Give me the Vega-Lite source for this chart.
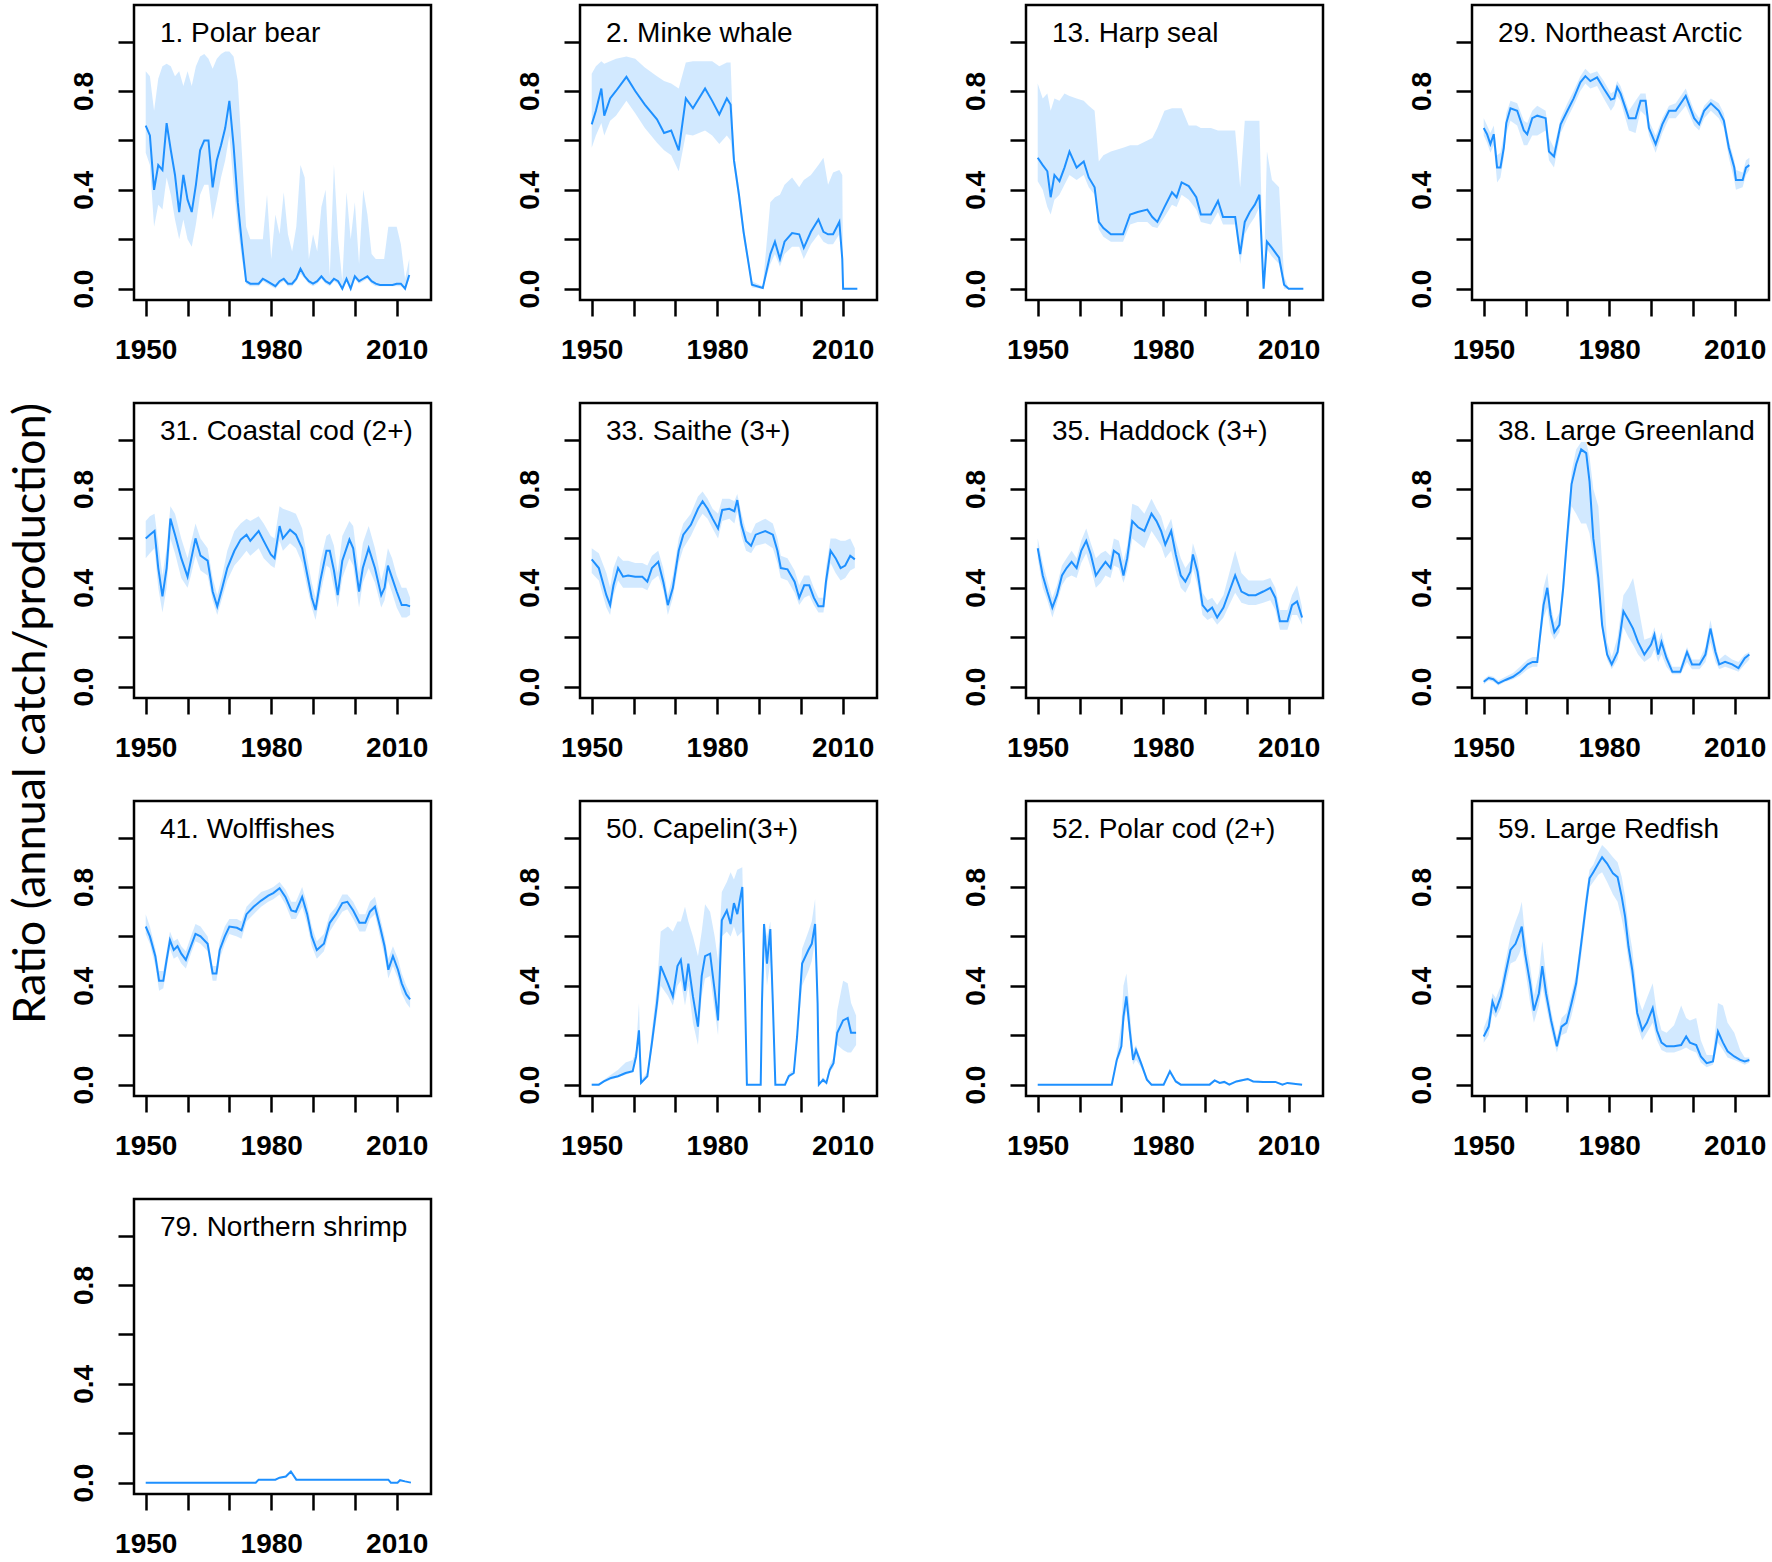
{
  "$schema": "https://vega.github.io/schema/vega-lite/v6.json",
  "padding": {"left": 8, "top": 3, "right": 0, "bottom": 0},
  "title": {"text": "Ratio (annual catch/production)", "orient": "left", "anchor": "middle", "font": "Lato", "fontSize": 45, "fontWeight": "normal", "color": "black", "offset": 15, "dx": 68},
  "datasets": {
    "names": [
      {"s": 1, "name": "1. Polar bear"},
      {"s": 2, "name": "2. Minke whale"},
      {"s": 13, "name": "13. Harp seal"},
      {"s": 29, "name": "29. Northeast Arctic"},
      {"s": 31, "name": "31. Coastal cod (2+)"},
      {"s": 33, "name": "33. Saithe (3+)"},
      {"s": 35, "name": "35. Haddock (3+)"},
      {"s": 38, "name": "38. Large Greenland"},
      {"s": 41, "name": "41. Wolffishes"},
      {"s": 50, "name": "50. Capelin(3+)"},
      {"s": 52, "name": "52. Polar cod (2+)"},
      {"s": 59, "name": "59. Large Redfish"},
      {"s": 79, "name": "79. Northern shrimp"}
    ]
  },
  "data": {"values": [
    {"s":1,"t":1950,"m":0.66,"l":0.55,"u":0.88},
    {"s":1,"t":1951,"m":0.62,"l":0.50,"u":0.86},
    {"s":1,"t":1952,"m":0.40,"l":0.25,"u":0.72},
    {"s":1,"t":1953,"m":0.50,"l":0.34,"u":0.85},
    {"s":1,"t":1954,"m":0.48,"l":0.32,"u":0.90},
    {"s":1,"t":1955,"m":0.67,"l":0.45,"u":0.91},
    {"s":1,"t":1956,"m":0.56,"l":0.38,"u":0.90},
    {"s":1,"t":1957,"m":0.46,"l":0.28,"u":0.86},
    {"s":1,"t":1958,"m":0.31,"l":0.20,"u":0.88},
    {"s":1,"t":1959,"m":0.46,"l":0.28,"u":0.82},
    {"s":1,"t":1960,"m":0.36,"l":0.20,"u":0.88},
    {"s":1,"t":1961,"m":0.31,"l":0.17,"u":0.82},
    {"s":1,"t":1962,"m":0.42,"l":0.26,"u":0.90},
    {"s":1,"t":1963,"m":0.56,"l":0.38,"u":0.94},
    {"s":1,"t":1964,"m":0.60,"l":0.42,"u":0.95},
    {"s":1,"t":1965,"m":0.60,"l":0.42,"u":0.93},
    {"s":1,"t":1966,"m":0.41,"l":0.28,"u":0.89},
    {"s":1,"t":1967,"m":0.52,"l":0.36,"u":0.93},
    {"s":1,"t":1968,"m":0.58,"l":0.45,"u":0.95},
    {"s":1,"t":1969,"m":0.65,"l":0.52,"u":0.96},
    {"s":1,"t":1970,"m":0.76,"l":0.62,"u":0.96},
    {"s":1,"t":1971,"m":0.58,"l":0.42,"u":0.94},
    {"s":1,"t":1972,"m":0.35,"l":0.25,"u":0.84},
    {"s":1,"t":1973,"m":0.18,"l":0.12,"u":0.55},
    {"s":1,"t":1974,"m":0.03,"l":0.02,"u":0.25},
    {"s":1,"t":1975,"m":0.02,"l":0.01,"u":0.20},
    {"s":1,"t":1976,"m":0.02,"l":0.01,"u":0.20},
    {"s":1,"t":1977,"m":0.02,"l":0.01,"u":0.20},
    {"s":1,"t":1978,"m":0.04,"l":0.03,"u":0.20},
    {"s":1,"t":1979,"m":0.03,"l":0.02,"u":0.38},
    {"s":1,"t":1980,"m":0.02,"l":0.01,"u":0.12},
    {"s":1,"t":1981,"m":0.01,"l":0.00,"u":0.30},
    {"s":1,"t":1982,"m":0.03,"l":0.02,"u":0.22},
    {"s":1,"t":1983,"m":0.04,"l":0.03,"u":0.39},
    {"s":1,"t":1984,"m":0.02,"l":0.01,"u":0.22},
    {"s":1,"t":1985,"m":0.02,"l":0.01,"u":0.15},
    {"s":1,"t":1986,"m":0.04,"l":0.03,"u":0.25},
    {"s":1,"t":1987,"m":0.08,"l":0.06,"u":0.50},
    {"s":1,"t":1988,"m":0.05,"l":0.04,"u":0.45},
    {"s":1,"t":1989,"m":0.03,"l":0.02,"u":0.12},
    {"s":1,"t":1990,"m":0.02,"l":0.01,"u":0.22},
    {"s":1,"t":1991,"m":0.03,"l":0.02,"u":0.15},
    {"s":1,"t":1992,"m":0.05,"l":0.04,"u":0.33},
    {"s":1,"t":1993,"m":0.03,"l":0.02,"u":0.40},
    {"s":1,"t":1994,"m":0.02,"l":0.01,"u":0.05},
    {"s":1,"t":1995,"m":0.04,"l":0.03,"u":0.50},
    {"s":1,"t":1996,"m":0.03,"l":0.02,"u":0.20},
    {"s":1,"t":1997,"m":0.00,"l":0.00,"u":0.03},
    {"s":1,"t":1998,"m":0.04,"l":0.03,"u":0.39},
    {"s":1,"t":1999,"m":0.00,"l":0.00,"u":0.20},
    {"s":1,"t":2000,"m":0.05,"l":0.04,"u":0.35},
    {"s":1,"t":2001,"m":0.03,"l":0.02,"u":0.10},
    {"s":1,"t":2002,"m":0.04,"l":0.03,"u":0.40},
    {"s":1,"t":2003,"m":0.05,"l":0.04,"u":0.30},
    {"s":1,"t":2004,"m":0.03,"l":0.02,"u":0.14},
    {"s":1,"t":2005,"m":0.02,"l":0.01,"u":0.12},
    {"s":1,"t":2006,"m":0.015,"l":0.01,"u":0.12},
    {"s":1,"t":2007,"m":0.015,"l":0.01,"u":0.12},
    {"s":1,"t":2008,"m":0.015,"l":0.01,"u":0.25},
    {"s":1,"t":2009,"m":0.015,"l":0.01,"u":0.25},
    {"s":1,"t":2010,"m":0.02,"l":0.01,"u":0.25},
    {"s":1,"t":2011,"m":0.02,"l":0.01,"u":0.18},
    {"s":1,"t":2012,"m":0.00,"l":0.00,"u":0.04},
    {"s":1,"t":2013,"m":0.055,"l":0.04,"u":0.12},

    {"s":2,"t":1950,"m":0.665,"l":0.57,"u":0.87},
    {"s":2,"t":1951,"m":0.72,"l":0.62,"u":0.90},
    {"s":2,"t":1952.3,"m":0.81,"l":0.67,"u":0.92},
    {"s":2,"t":1953,"m":0.70,"l":0.62,"u":0.91},
    {"s":2,"t":1954.4,"m":0.77,"l":0.68,"u":0.92},
    {"s":2,"t":1955.8,"m":0.80,"l":0.70,"u":0.93},
    {"s":2,"t":1958.3,"m":0.857,"l":0.76,"u":0.94},
    {"s":2,"t":1960.4,"m":0.80,"l":0.71,"u":0.93},
    {"s":2,"t":1962.7,"m":0.745,"l":0.65,"u":0.895},
    {"s":2,"t":1965.6,"m":0.685,"l":0.59,"u":0.86},
    {"s":2,"t":1967.3,"m":0.63,"l":0.56,"u":0.84},
    {"s":2,"t":1969,"m":0.64,"l":0.54,"u":0.83},
    {"s":2,"t":1970.8,"m":0.56,"l":0.475,"u":0.81},
    {"s":2,"t":1972.5,"m":0.77,"l":0.625,"u":0.915},
    {"s":2,"t":1974.2,"m":0.73,"l":0.62,"u":0.92},
    {"s":2,"t":1977.1,"m":0.81,"l":0.64,"u":0.92},
    {"s":2,"t":1978.8,"m":0.76,"l":0.62,"u":0.92},
    {"s":2,"t":1980.5,"m":0.705,"l":0.585,"u":0.90},
    {"s":2,"t":1982.3,"m":0.77,"l":0.62,"u":0.915},
    {"s":2,"t":1983.2,"m":0.745,"l":0.60,"u":0.915},
    {"s":2,"t":1984,"m":0.52,"l":0.49,"u":0.55},
    {"s":2,"t":1985.2,"m":0.38,"l":0.35,"u":0.41},
    {"s":2,"t":1986.3,"m":0.23,"l":0.20,"u":0.26},
    {"s":2,"t":1988.3,"m":0.016,"l":0.005,"u":0.03},
    {"s":2,"t":1990.9,"m":0.003,"l":0.0,"u":0.01},
    {"s":2,"t":1992.7,"m":0.14,"l":0.10,"u":0.35},
    {"s":2,"t":1993.8,"m":0.19,"l":0.14,"u":0.37},
    {"s":2,"t":1995,"m":0.12,"l":0.09,"u":0.38},
    {"s":2,"t":1996.1,"m":0.19,"l":0.14,"u":0.42},
    {"s":2,"t":1997.9,"m":0.225,"l":0.17,"u":0.45},
    {"s":2,"t":1999.6,"m":0.22,"l":0.17,"u":0.41},
    {"s":2,"t":2000.7,"m":0.165,"l":0.12,"u":0.44},
    {"s":2,"t":2002.4,"m":0.23,"l":0.18,"u":0.46},
    {"s":2,"t":2004.2,"m":0.28,"l":0.22,"u":0.50},
    {"s":2,"t":2005.4,"m":0.23,"l":0.19,"u":0.53},
    {"s":2,"t":2006.5,"m":0.22,"l":0.18,"u":0.42},
    {"s":2,"t":2007.7,"m":0.22,"l":0.18,"u":0.47},
    {"s":2,"t":2009.2,"m":0.27,"l":0.22,"u":0.48},
    {"s":2,"t":2009.9,"m":0.12,"l":0.10,"u":0.46},
    {"s":2,"t":2010.1,"m":0.0,"l":0.0,"u":0.0},
    {"s":2,"t":2013.5,"m":0.0,"l":0.0,"u":0.0},

    {"s":13,"t":1950,"m":0.53,"l":0.435,"u":0.83},
    {"s":13,"t":1951.2,"m":0.50,"l":0.40,"u":0.77},
    {"s":13,"t":1952.3,"m":0.475,"l":0.33,"u":0.79},
    {"s":13,"t":1953.1,"m":0.37,"l":0.30,"u":0.72},
    {"s":13,"t":1954,"m":0.46,"l":0.36,"u":0.77},
    {"s":13,"t":1955.2,"m":0.435,"l":0.38,"u":0.76},
    {"s":13,"t":1956.4,"m":0.49,"l":0.42,"u":0.79},
    {"s":13,"t":1957.6,"m":0.555,"l":0.46,"u":0.78},
    {"s":13,"t":1959.3,"m":0.49,"l":0.44,"u":0.77},
    {"s":13,"t":1961,"m":0.515,"l":0.46,"u":0.76},
    {"s":13,"t":1962.2,"m":0.45,"l":0.41,"u":0.74},
    {"s":13,"t":1963.6,"m":0.41,"l":0.38,"u":0.72},
    {"s":13,"t":1964.6,"m":0.27,"l":0.24,"u":0.515},
    {"s":13,"t":1965.7,"m":0.245,"l":0.21,"u":0.54},
    {"s":13,"t":1967.5,"m":0.22,"l":0.19,"u":0.555},
    {"s":13,"t":1970.4,"m":0.22,"l":0.19,"u":0.57},
    {"s":13,"t":1972.1,"m":0.30,"l":0.26,"u":0.58},
    {"s":13,"t":1973.9,"m":0.31,"l":0.27,"u":0.58},
    {"s":13,"t":1976.2,"m":0.32,"l":0.27,"u":0.60},
    {"s":13,"t":1977.4,"m":0.29,"l":0.25,"u":0.61},
    {"s":13,"t":1978.6,"m":0.27,"l":0.245,"u":0.65},
    {"s":13,"t":1980.3,"m":0.33,"l":0.29,"u":0.72},
    {"s":13,"t":1982.1,"m":0.39,"l":0.34,"u":0.73},
    {"s":13,"t":1983.2,"m":0.37,"l":0.33,"u":0.73},
    {"s":13,"t":1984.4,"m":0.43,"l":0.38,"u":0.73},
    {"s":13,"t":1986.1,"m":0.415,"l":0.36,"u":0.66},
    {"s":13,"t":1987.9,"m":0.37,"l":0.32,"u":0.66},
    {"s":13,"t":1989,"m":0.30,"l":0.27,"u":0.65},
    {"s":13,"t":1991.4,"m":0.30,"l":0.26,"u":0.65},
    {"s":13,"t":1993.1,"m":0.355,"l":0.31,"u":0.64},
    {"s":13,"t":1994.3,"m":0.29,"l":0.26,"u":0.64},
    {"s":13,"t":1997.2,"m":0.29,"l":0.26,"u":0.64},
    {"s":13,"t":1998.4,"m":0.14,"l":0.10,"u":0.41},
    {"s":13,"t":1999.5,"m":0.27,"l":0.22,"u":0.68},
    {"s":13,"t":2000.7,"m":0.31,"l":0.26,"u":0.68},
    {"s":13,"t":2001.9,"m":0.34,"l":0.29,"u":0.68},
    {"s":13,"t":2003,"m":0.38,"l":0.33,"u":0.68},
    {"s":13,"t":2004,"m":0.0,"l":0.0,"u":0.0},
    {"s":13,"t":2004.8,"m":0.19,"l":0.16,"u":0.555},
    {"s":13,"t":2006,"m":0.165,"l":0.13,"u":0.44},
    {"s":13,"t":2007.7,"m":0.125,"l":0.10,"u":0.41},
    {"s":13,"t":2008.9,"m":0.016,"l":0.0,"u":0.05},
    {"s":13,"t":2010,"m":0.0,"l":0.0,"u":0.0},
    {"s":13,"t":2013.5,"m":0.0,"l":0.0,"u":0.0},

    {"s":29,"t":1950,"m":0.65,"l":0.62,"u":0.69},
    {"s":29,"t":1950.8,"m":0.625,"l":0.59,"u":0.66},
    {"s":29,"t":1951.6,"m":0.585,"l":0.55,"u":0.63},
    {"s":29,"t":1952.4,"m":0.625,"l":0.58,"u":0.66},
    {"s":29,"t":1953.2,"m":0.49,"l":0.43,"u":0.54},
    {"s":29,"t":1954,"m":0.49,"l":0.45,"u":0.55},
    {"s":29,"t":1954.8,"m":0.57,"l":0.53,"u":0.62},
    {"s":29,"t":1955.4,"m":0.67,"l":0.63,"u":0.71},
    {"s":29,"t":1956.4,"m":0.73,"l":0.68,"u":0.76},
    {"s":29,"t":1958,"m":0.72,"l":0.66,"u":0.75},
    {"s":29,"t":1959.6,"m":0.64,"l":0.58,"u":0.68},
    {"s":29,"t":1960.4,"m":0.625,"l":0.58,"u":0.67},
    {"s":29,"t":1961.6,"m":0.69,"l":0.62,"u":0.72},
    {"s":29,"t":1962.8,"m":0.70,"l":0.62,"u":0.74},
    {"s":29,"t":1964.8,"m":0.69,"l":0.64,"u":0.72},
    {"s":29,"t":1965.6,"m":0.555,"l":0.52,"u":0.61},
    {"s":29,"t":1966.8,"m":0.535,"l":0.49,"u":0.57},
    {"s":29,"t":1968.4,"m":0.665,"l":0.63,"u":0.69},
    {"s":29,"t":1970,"m":0.72,"l":0.69,"u":0.75},
    {"s":29,"t":1971.5,"m":0.77,"l":0.74,"u":0.80},
    {"s":29,"t":1973.1,"m":0.835,"l":0.80,"u":0.86},
    {"s":29,"t":1974.3,"m":0.86,"l":0.83,"u":0.89},
    {"s":29,"t":1975.5,"m":0.84,"l":0.81,"u":0.87},
    {"s":29,"t":1977.1,"m":0.855,"l":0.82,"u":0.88},
    {"s":29,"t":1978.7,"m":0.81,"l":0.77,"u":0.84},
    {"s":29,"t":1980.4,"m":0.765,"l":0.72,"u":0.79},
    {"s":29,"t":1981.2,"m":0.77,"l":0.74,"u":0.80},
    {"s":29,"t":1981.9,"m":0.815,"l":0.78,"u":0.84},
    {"s":29,"t":1982.7,"m":0.79,"l":0.76,"u":0.82},
    {"s":29,"t":1984.7,"m":0.69,"l":0.64,"u":0.72},
    {"s":29,"t":1986.3,"m":0.69,"l":0.63,"u":0.76},
    {"s":29,"t":1987.5,"m":0.76,"l":0.72,"u":0.79},
    {"s":29,"t":1988.7,"m":0.76,"l":0.70,"u":0.79},
    {"s":29,"t":1989.5,"m":0.65,"l":0.62,"u":0.68},
    {"s":29,"t":1991.1,"m":0.585,"l":0.55,"u":0.62},
    {"s":29,"t":1992.7,"m":0.665,"l":0.63,"u":0.69},
    {"s":29,"t":1994.3,"m":0.72,"l":0.69,"u":0.74},
    {"s":29,"t":1995.9,"m":0.72,"l":0.69,"u":0.75},
    {"s":29,"t":1998.3,"m":0.78,"l":0.74,"u":0.81},
    {"s":29,"t":2000.3,"m":0.69,"l":0.66,"u":0.72},
    {"s":29,"t":2001.5,"m":0.665,"l":0.64,"u":0.69},
    {"s":29,"t":2002.7,"m":0.72,"l":0.69,"u":0.74},
    {"s":29,"t":2004.3,"m":0.75,"l":0.72,"u":0.77},
    {"s":29,"t":2006.2,"m":0.72,"l":0.69,"u":0.75},
    {"s":29,"t":2007.4,"m":0.68,"l":0.65,"u":0.71},
    {"s":29,"t":2008.6,"m":0.57,"l":0.53,"u":0.60},
    {"s":29,"t":2009.9,"m":0.49,"l":0.44,"u":0.52},
    {"s":29,"t":2010.3,"m":0.44,"l":0.40,"u":0.48},
    {"s":29,"t":2011.9,"m":0.44,"l":0.41,"u":0.47},
    {"s":29,"t":2012.7,"m":0.49,"l":0.46,"u":0.52},
    {"s":29,"t":2013.5,"m":0.50,"l":0.48,"u":0.53},

    {"s":31,"t":1950,"m":0.60,"l":0.52,"u":0.67},
    {"s":31,"t":1951,"m":0.615,"l":0.54,"u":0.69},
    {"s":31,"t":1952.1,"m":0.63,"l":0.56,"u":0.70},
    {"s":31,"t":1953,"m":0.48,"l":0.40,"u":0.58},
    {"s":31,"t":1954,"m":0.365,"l":0.30,"u":0.45},
    {"s":31,"t":1955,"m":0.48,"l":0.40,"u":0.56},
    {"s":31,"t":1955.9,"m":0.68,"l":0.60,"u":0.73},
    {"s":31,"t":1957,"m":0.615,"l":0.54,"u":0.70},
    {"s":31,"t":1958.5,"m":0.52,"l":0.44,"u":0.60},
    {"s":31,"t":1960,"m":0.445,"l":0.40,"u":0.52},
    {"s":31,"t":1960.8,"m":0.51,"l":0.45,"u":0.58},
    {"s":31,"t":1961.9,"m":0.60,"l":0.53,"u":0.66},
    {"s":31,"t":1963.1,"m":0.53,"l":0.47,"u":0.60},
    {"s":31,"t":1964.8,"m":0.51,"l":0.45,"u":0.56},
    {"s":31,"t":1966,"m":0.385,"l":0.35,"u":0.44},
    {"s":31,"t":1967.1,"m":0.325,"l":0.29,"u":0.37},
    {"s":31,"t":1968.3,"m":0.40,"l":0.36,"u":0.45},
    {"s":31,"t":1969.5,"m":0.48,"l":0.43,"u":0.55},
    {"s":31,"t":1971.2,"m":0.55,"l":0.49,"u":0.63},
    {"s":31,"t":1972.7,"m":0.595,"l":0.52,"u":0.66},
    {"s":31,"t":1974.1,"m":0.615,"l":0.55,"u":0.68},
    {"s":31,"t":1975,"m":0.59,"l":0.53,"u":0.67},
    {"s":31,"t":1977,"m":0.63,"l":0.56,"u":0.69},
    {"s":31,"t":1978.2,"m":0.59,"l":0.52,"u":0.66},
    {"s":31,"t":1979.9,"m":0.535,"l":0.49,"u":0.61},
    {"s":31,"t":1980.8,"m":0.52,"l":0.48,"u":0.60},
    {"s":31,"t":1982,"m":0.65,"l":0.59,"u":0.73},
    {"s":31,"t":1982.8,"m":0.60,"l":0.55,"u":0.72},
    {"s":31,"t":1984.5,"m":0.635,"l":0.58,"u":0.71},
    {"s":31,"t":1985.9,"m":0.615,"l":0.56,"u":0.70},
    {"s":31,"t":1987.4,"m":0.56,"l":0.50,"u":0.64},
    {"s":31,"t":1988.6,"m":0.455,"l":0.40,"u":0.52},
    {"s":31,"t":1989.7,"m":0.36,"l":0.32,"u":0.42},
    {"s":31,"t":1990.6,"m":0.31,"l":0.27,"u":0.36},
    {"s":31,"t":1991.7,"m":0.425,"l":0.37,"u":0.50},
    {"s":31,"t":1993.2,"m":0.55,"l":0.49,"u":0.61},
    {"s":31,"t":1994,"m":0.55,"l":0.48,"u":0.62},
    {"s":31,"t":1995,"m":0.47,"l":0.40,"u":0.57},
    {"s":31,"t":1995.9,"m":0.37,"l":0.32,"u":0.46},
    {"s":31,"t":1997,"m":0.51,"l":0.44,"u":0.61},
    {"s":31,"t":1998.7,"m":0.595,"l":0.52,"u":0.67},
    {"s":31,"t":1999.6,"m":0.56,"l":0.49,"u":0.65},
    {"s":31,"t":2001,"m":0.385,"l":0.32,"u":0.46},
    {"s":31,"t":2001.9,"m":0.48,"l":0.42,"u":0.58},
    {"s":31,"t":2003.3,"m":0.56,"l":0.48,"u":0.65},
    {"s":31,"t":2004.8,"m":0.48,"l":0.42,"u":0.56},
    {"s":31,"t":2006.3,"m":0.37,"l":0.32,"u":0.43},
    {"s":31,"t":2007.1,"m":0.40,"l":0.35,"u":0.48},
    {"s":31,"t":2007.9,"m":0.49,"l":0.43,"u":0.56},
    {"s":31,"t":2008.9,"m":0.44,"l":0.38,"u":0.52},
    {"s":31,"t":2010,"m":0.385,"l":0.32,"u":0.45},
    {"s":31,"t":2011.2,"m":0.33,"l":0.28,"u":0.40},
    {"s":31,"t":2012.3,"m":0.33,"l":0.28,"u":0.40},
    {"s":31,"t":2013.2,"m":0.325,"l":0.29,"u":0.36},

    {"s":33,"t":1950,"m":0.515,"l":0.46,"u":0.56},
    {"s":33,"t":1951.7,"m":0.48,"l":0.43,"u":0.54},
    {"s":33,"t":1953.5,"m":0.37,"l":0.32,"u":0.46},
    {"s":33,"t":1954.4,"m":0.33,"l":0.29,"u":0.40},
    {"s":33,"t":1955.2,"m":0.41,"l":0.37,"u":0.48},
    {"s":33,"t":1956.3,"m":0.48,"l":0.43,"u":0.53},
    {"s":33,"t":1957.5,"m":0.445,"l":0.40,"u":0.51},
    {"s":33,"t":1958.7,"m":0.45,"l":0.40,"u":0.51},
    {"s":33,"t":1960.4,"m":0.445,"l":0.40,"u":0.50},
    {"s":33,"t":1962.1,"m":0.445,"l":0.40,"u":0.50},
    {"s":33,"t":1963.3,"m":0.425,"l":0.39,"u":0.49},
    {"s":33,"t":1964.4,"m":0.48,"l":0.43,"u":0.53},
    {"s":33,"t":1965.9,"m":0.505,"l":0.45,"u":0.55},
    {"s":33,"t":1967.1,"m":0.425,"l":0.39,"u":0.48},
    {"s":33,"t":1968.2,"m":0.33,"l":0.29,"u":0.37},
    {"s":33,"t":1969.4,"m":0.40,"l":0.36,"u":0.45},
    {"s":33,"t":1970.8,"m":0.55,"l":0.50,"u":0.60},
    {"s":33,"t":1971.9,"m":0.615,"l":0.56,"u":0.66},
    {"s":33,"t":1973.7,"m":0.655,"l":0.61,"u":0.70},
    {"s":33,"t":1975.4,"m":0.72,"l":0.67,"u":0.77},
    {"s":33,"t":1976.5,"m":0.75,"l":0.70,"u":0.79},
    {"s":33,"t":1977.7,"m":0.72,"l":0.68,"u":0.76},
    {"s":33,"t":1978.9,"m":0.68,"l":0.64,"u":0.72},
    {"s":33,"t":1980.2,"m":0.64,"l":0.60,"u":0.70},
    {"s":33,"t":1981.2,"m":0.715,"l":0.67,"u":0.76},
    {"s":33,"t":1982.9,"m":0.72,"l":0.68,"u":0.76},
    {"s":33,"t":1984.1,"m":0.71,"l":0.66,"u":0.75},
    {"s":33,"t":1984.8,"m":0.755,"l":0.71,"u":0.78},
    {"s":33,"t":1985.8,"m":0.655,"l":0.61,"u":0.70},
    {"s":33,"t":1986.9,"m":0.59,"l":0.55,"u":0.63},
    {"s":33,"t":1988.1,"m":0.57,"l":0.54,"u":0.62},
    {"s":33,"t":1989.2,"m":0.615,"l":0.57,"u":0.66},
    {"s":33,"t":1991.5,"m":0.63,"l":0.58,"u":0.68},
    {"s":33,"t":1993.3,"m":0.615,"l":0.56,"u":0.66},
    {"s":33,"t":1994.4,"m":0.55,"l":0.50,"u":0.60},
    {"s":33,"t":1995.2,"m":0.48,"l":0.44,"u":0.53},
    {"s":33,"t":1996.8,"m":0.475,"l":0.43,"u":0.52},
    {"s":33,"t":1998.5,"m":0.425,"l":0.38,"u":0.47},
    {"s":33,"t":1999.6,"m":0.36,"l":0.33,"u":0.41},
    {"s":33,"t":2000.8,"m":0.41,"l":0.36,"u":0.45},
    {"s":33,"t":2002,"m":0.41,"l":0.37,"u":0.45},
    {"s":33,"t":2003.1,"m":0.36,"l":0.33,"u":0.40},
    {"s":33,"t":2004.2,"m":0.325,"l":0.30,"u":0.36},
    {"s":33,"t":2005.4,"m":0.325,"l":0.30,"u":0.36},
    {"s":33,"t":2006,"m":0.425,"l":0.38,"u":0.48},
    {"s":33,"t":2007.1,"m":0.55,"l":0.50,"u":0.60},
    {"s":33,"t":2008.3,"m":0.52,"l":0.46,"u":0.60},
    {"s":33,"t":2009.5,"m":0.48,"l":0.43,"u":0.59},
    {"s":33,"t":2010.6,"m":0.49,"l":0.44,"u":0.59},
    {"s":33,"t":2011.8,"m":0.53,"l":0.47,"u":0.60},
    {"s":33,"t":2012.9,"m":0.515,"l":0.48,"u":0.56},

    {"s":35,"t":1950,"m":0.56,"l":0.52,"u":0.60},
    {"s":35,"t":1951.2,"m":0.45,"l":0.40,"u":0.50},
    {"s":35,"t":1952.3,"m":0.385,"l":0.35,"u":0.43},
    {"s":35,"t":1953.5,"m":0.32,"l":0.28,"u":0.36},
    {"s":35,"t":1954.6,"m":0.37,"l":0.34,"u":0.41},
    {"s":35,"t":1955.8,"m":0.45,"l":0.41,"u":0.49},
    {"s":35,"t":1956.9,"m":0.48,"l":0.44,"u":0.52},
    {"s":35,"t":1958.1,"m":0.505,"l":0.45,"u":0.55},
    {"s":35,"t":1959.3,"m":0.48,"l":0.44,"u":0.52},
    {"s":35,"t":1960.4,"m":0.55,"l":0.50,"u":0.59},
    {"s":35,"t":1961.6,"m":0.59,"l":0.54,"u":0.64},
    {"s":35,"t":1962.7,"m":0.535,"l":0.48,"u":0.58},
    {"s":35,"t":1963.9,"m":0.45,"l":0.40,"u":0.52},
    {"s":35,"t":1965.1,"m":0.48,"l":0.42,"u":0.54},
    {"s":35,"t":1966.2,"m":0.505,"l":0.45,"u":0.55},
    {"s":35,"t":1967.4,"m":0.48,"l":0.44,"u":0.53},
    {"s":35,"t":1968.2,"m":0.55,"l":0.49,"u":0.60},
    {"s":35,"t":1969.4,"m":0.535,"l":0.48,"u":0.59},
    {"s":35,"t":1970.5,"m":0.45,"l":0.42,"u":0.51},
    {"s":35,"t":1971.4,"m":0.52,"l":0.47,"u":0.57},
    {"s":35,"t":1972.6,"m":0.67,"l":0.60,"u":0.74},
    {"s":35,"t":1974,"m":0.645,"l":0.58,"u":0.73},
    {"s":35,"t":1975.5,"m":0.63,"l":0.56,"u":0.70},
    {"s":35,"t":1977.2,"m":0.70,"l":0.63,"u":0.76},
    {"s":35,"t":1978.4,"m":0.67,"l":0.60,"u":0.72},
    {"s":35,"t":1979.5,"m":0.63,"l":0.57,"u":0.69},
    {"s":35,"t":1980.5,"m":0.575,"l":0.52,"u":0.63},
    {"s":35,"t":1981.9,"m":0.63,"l":0.55,"u":0.68},
    {"s":35,"t":1983,"m":0.535,"l":0.47,"u":0.59},
    {"s":35,"t":1984.2,"m":0.45,"l":0.40,"u":0.52},
    {"s":35,"t":1985.3,"m":0.425,"l":0.38,"u":0.48},
    {"s":35,"t":1986.5,"m":0.465,"l":0.42,"u":0.51},
    {"s":35,"t":1987.1,"m":0.535,"l":0.48,"u":0.58},
    {"s":35,"t":1988.2,"m":0.465,"l":0.41,"u":0.52},
    {"s":35,"t":1989.4,"m":0.33,"l":0.29,"u":0.38},
    {"s":35,"t":1990.6,"m":0.305,"l":0.27,"u":0.35},
    {"s":35,"t":1991.7,"m":0.32,"l":0.28,"u":0.36},
    {"s":35,"t":1992.9,"m":0.28,"l":0.25,"u":0.33},
    {"s":35,"t":1994.4,"m":0.32,"l":0.28,"u":0.37},
    {"s":35,"t":1995.8,"m":0.385,"l":0.33,"u":0.46},
    {"s":35,"t":1997.2,"m":0.45,"l":0.38,"u":0.55},
    {"s":35,"t":1998.7,"m":0.385,"l":0.34,"u":0.46},
    {"s":35,"t":2000.4,"m":0.37,"l":0.33,"u":0.43},
    {"s":35,"t":2002.1,"m":0.37,"l":0.33,"u":0.43},
    {"s":35,"t":2003.9,"m":0.385,"l":0.34,"u":0.43},
    {"s":35,"t":2005.6,"m":0.40,"l":0.35,"u":0.44},
    {"s":35,"t":2006.8,"m":0.36,"l":0.31,"u":0.40},
    {"s":35,"t":2007.9,"m":0.265,"l":0.23,"u":0.31},
    {"s":35,"t":2009.7,"m":0.265,"l":0.23,"u":0.31},
    {"s":35,"t":2010.8,"m":0.33,"l":0.29,"u":0.37},
    {"s":35,"t":2012,"m":0.345,"l":0.29,"u":0.41},
    {"s":35,"t":2013.2,"m":0.28,"l":0.25,"u":0.32},

    {"s":38,"t":1950,"m":0.02,"l":0.01,"u":0.03},
    {"s":38,"t":1951.2,"m":0.035,"l":0.025,"u":0.045},
    {"s":38,"t":1952.3,"m":0.03,"l":0.02,"u":0.04},
    {"s":38,"t":1953.5,"m":0.013,"l":0.005,"u":0.025},
    {"s":38,"t":1955.2,"m":0.027,"l":0.02,"u":0.04},
    {"s":38,"t":1957,"m":0.04,"l":0.03,"u":0.055},
    {"s":38,"t":1958.7,"m":0.06,"l":0.045,"u":0.08},
    {"s":38,"t":1960.5,"m":0.09,"l":0.07,"u":0.11},
    {"s":38,"t":1961.7,"m":0.10,"l":0.08,"u":0.12},
    {"s":38,"t":1962.8,"m":0.10,"l":0.08,"u":0.12},
    {"s":38,"t":1963.4,"m":0.195,"l":0.16,"u":0.23},
    {"s":38,"t":1964.3,"m":0.33,"l":0.28,"u":0.40},
    {"s":38,"t":1965.2,"m":0.40,"l":0.32,"u":0.46},
    {"s":38,"t":1966,"m":0.29,"l":0.22,"u":0.33},
    {"s":38,"t":1966.9,"m":0.22,"l":0.19,"u":0.26},
    {"s":38,"t":1968.1,"m":0.25,"l":0.22,"u":0.30},
    {"s":38,"t":1969,"m":0.40,"l":0.36,"u":0.44},
    {"s":38,"t":1969.8,"m":0.575,"l":0.52,"u":0.62},
    {"s":38,"t":1971,"m":0.82,"l":0.73,"u":0.87},
    {"s":38,"t":1972.1,"m":0.90,"l":0.70,"u":0.96},
    {"s":38,"t":1973.3,"m":0.96,"l":0.66,"u":0.99},
    {"s":38,"t":1974.5,"m":0.945,"l":0.66,"u":0.99},
    {"s":38,"t":1975.3,"m":0.83,"l":0.62,"u":0.93},
    {"s":38,"t":1976.2,"m":0.60,"l":0.52,"u":0.80},
    {"s":38,"t":1977.4,"m":0.44,"l":0.38,"u":0.73},
    {"s":38,"t":1978.3,"m":0.25,"l":0.22,"u":0.50},
    {"s":38,"t":1979.5,"m":0.13,"l":0.11,"u":0.18},
    {"s":38,"t":1980.6,"m":0.09,"l":0.07,"u":0.12},
    {"s":38,"t":1982,"m":0.14,"l":0.11,"u":0.20},
    {"s":38,"t":1983.4,"m":0.305,"l":0.24,"u":0.37},
    {"s":38,"t":1984.6,"m":0.27,"l":0.20,"u":0.40},
    {"s":38,"t":1985.7,"m":0.235,"l":0.17,"u":0.44},
    {"s":38,"t":1986.9,"m":0.18,"l":0.13,"u":0.33},
    {"s":38,"t":1988.4,"m":0.13,"l":0.10,"u":0.19},
    {"s":38,"t":1990,"m":0.17,"l":0.12,"u":0.20},
    {"s":38,"t":1990.8,"m":0.21,"l":0.15,"u":0.24},
    {"s":38,"t":1991.7,"m":0.13,"l":0.10,"u":0.18},
    {"s":38,"t":1992.5,"m":0.18,"l":0.13,"u":0.22},
    {"s":38,"t":1993.7,"m":0.115,"l":0.08,"u":0.14},
    {"s":38,"t":1995.1,"m":0.06,"l":0.05,"u":0.08},
    {"s":38,"t":1997,"m":0.06,"l":0.05,"u":0.08},
    {"s":38,"t":1998.6,"m":0.14,"l":0.10,"u":0.16},
    {"s":38,"t":1999.8,"m":0.09,"l":0.07,"u":0.11},
    {"s":38,"t":2001.6,"m":0.09,"l":0.07,"u":0.11},
    {"s":38,"t":2003,"m":0.13,"l":0.10,"u":0.16},
    {"s":38,"t":2004.2,"m":0.235,"l":0.18,"u":0.27},
    {"s":38,"t":2005.4,"m":0.14,"l":0.10,"u":0.17},
    {"s":38,"t":2006.3,"m":0.09,"l":0.07,"u":0.11},
    {"s":38,"t":2007.7,"m":0.10,"l":0.08,"u":0.13},
    {"s":38,"t":2009.4,"m":0.09,"l":0.07,"u":0.11},
    {"s":38,"t":2010.9,"m":0.075,"l":0.06,"u":0.10},
    {"s":38,"t":2012.4,"m":0.115,"l":0.09,"u":0.13},
    {"s":38,"t":2013.5,"m":0.13,"l":0.11,"u":0.14},

    {"s":41,"t":1950,"m":0.64,"l":0.61,"u":0.69},
    {"s":41,"t":1951,"m":0.60,"l":0.57,"u":0.64},
    {"s":41,"t":1952.3,"m":0.52,"l":0.48,"u":0.55},
    {"s":41,"t":1953.2,"m":0.42,"l":0.38,"u":0.46},
    {"s":41,"t":1954.2,"m":0.42,"l":0.39,"u":0.46},
    {"s":41,"t":1955,"m":0.505,"l":0.47,"u":0.54},
    {"s":41,"t":1955.8,"m":0.585,"l":0.55,"u":0.62},
    {"s":41,"t":1956.7,"m":0.545,"l":0.51,"u":0.58},
    {"s":41,"t":1957.6,"m":0.56,"l":0.52,"u":0.59},
    {"s":41,"t":1958.5,"m":0.53,"l":0.49,"u":0.56},
    {"s":41,"t":1959.6,"m":0.505,"l":0.47,"u":0.54},
    {"s":41,"t":1960.8,"m":0.56,"l":0.53,"u":0.60},
    {"s":41,"t":1961.9,"m":0.61,"l":0.58,"u":0.65},
    {"s":41,"t":1963.1,"m":0.60,"l":0.57,"u":0.64},
    {"s":41,"t":1964.8,"m":0.57,"l":0.54,"u":0.60},
    {"s":41,"t":1966,"m":0.45,"l":0.42,"u":0.48},
    {"s":41,"t":1966.9,"m":0.45,"l":0.42,"u":0.48},
    {"s":41,"t":1967.7,"m":0.545,"l":0.51,"u":0.58},
    {"s":41,"t":1968.9,"m":0.60,"l":0.57,"u":0.64},
    {"s":41,"t":1970,"m":0.64,"l":0.61,"u":0.67},
    {"s":41,"t":1971.8,"m":0.635,"l":0.60,"u":0.67},
    {"s":41,"t":1972.9,"m":0.625,"l":0.59,"u":0.66},
    {"s":41,"t":1974.1,"m":0.69,"l":0.66,"u":0.72},
    {"s":41,"t":1975.8,"m":0.72,"l":0.69,"u":0.75},
    {"s":41,"t":1977.6,"m":0.745,"l":0.72,"u":0.78},
    {"s":41,"t":1979.3,"m":0.765,"l":0.74,"u":0.79},
    {"s":41,"t":1980.5,"m":0.775,"l":0.75,"u":0.80},
    {"s":41,"t":1982,"m":0.795,"l":0.77,"u":0.82},
    {"s":41,"t":1983.4,"m":0.76,"l":0.73,"u":0.79},
    {"s":41,"t":1984.8,"m":0.705,"l":0.67,"u":0.74},
    {"s":41,"t":1985.9,"m":0.70,"l":0.67,"u":0.74},
    {"s":41,"t":1987.4,"m":0.76,"l":0.72,"u":0.80},
    {"s":41,"t":1988.6,"m":0.69,"l":0.65,"u":0.73},
    {"s":41,"t":1989.7,"m":0.60,"l":0.56,"u":0.64},
    {"s":41,"t":1990.9,"m":0.545,"l":0.51,"u":0.58},
    {"s":41,"t":1992.6,"m":0.57,"l":0.54,"u":0.61},
    {"s":41,"t":1994,"m":0.655,"l":0.62,"u":0.69},
    {"s":41,"t":1995.5,"m":0.69,"l":0.66,"u":0.72},
    {"s":41,"t":1997,"m":0.735,"l":0.70,"u":0.77},
    {"s":41,"t":1998.2,"m":0.74,"l":0.71,"u":0.77},
    {"s":41,"t":1999.6,"m":0.705,"l":0.67,"u":0.74},
    {"s":41,"t":2001.1,"m":0.655,"l":0.62,"u":0.69},
    {"s":41,"t":2002.5,"m":0.655,"l":0.62,"u":0.69},
    {"s":41,"t":2003.6,"m":0.70,"l":0.67,"u":0.74},
    {"s":41,"t":2004.8,"m":0.72,"l":0.69,"u":0.76},
    {"s":41,"t":2006,"m":0.64,"l":0.60,"u":0.68},
    {"s":41,"t":2007.1,"m":0.56,"l":0.52,"u":0.60},
    {"s":41,"t":2008,"m":0.465,"l":0.43,"u":0.51},
    {"s":41,"t":2009.1,"m":0.52,"l":0.48,"u":0.56},
    {"s":41,"t":2010.3,"m":0.465,"l":0.43,"u":0.51},
    {"s":41,"t":2011.2,"m":0.41,"l":0.37,"u":0.45},
    {"s":41,"t":2012.3,"m":0.365,"l":0.33,"u":0.40},
    {"s":41,"t":2013.2,"m":0.345,"l":0.31,"u":0.37},

    {"s":50,"t":1950,"m":0.0,"l":0.0,"u":0.005},
    {"s":50,"t":1951.7,"m":0.0,"l":0.0,"u":0.005},
    {"s":50,"t":1952.9,"m":0.013,"l":0.01,"u":0.02},
    {"s":50,"t":1954.6,"m":0.027,"l":0.02,"u":0.04},
    {"s":50,"t":1956.3,"m":0.034,"l":0.03,"u":0.06},
    {"s":50,"t":1958.1,"m":0.047,"l":0.04,"u":0.09},
    {"s":50,"t":1959.8,"m":0.054,"l":0.05,"u":0.10},
    {"s":50,"t":1960.6,"m":0.114,"l":0.10,"u":0.14},
    {"s":50,"t":1961.3,"m":0.22,"l":0.18,"u":0.33},
    {"s":50,"t":1961.8,"m":0.007,"l":0.005,"u":0.02},
    {"s":50,"t":1963.3,"m":0.034,"l":0.03,"u":0.05},
    {"s":50,"t":1964.4,"m":0.17,"l":0.14,"u":0.22},
    {"s":50,"t":1965.6,"m":0.33,"l":0.28,"u":0.40},
    {"s":50,"t":1966.5,"m":0.48,"l":0.40,"u":0.62},
    {"s":50,"t":1968.2,"m":0.41,"l":0.36,"u":0.64},
    {"s":50,"t":1969.4,"m":0.357,"l":0.32,"u":0.62},
    {"s":50,"t":1970.5,"m":0.48,"l":0.40,"u":0.66},
    {"s":50,"t":1971.3,"m":0.505,"l":0.42,"u":0.66},
    {"s":50,"t":1972.3,"m":0.38,"l":0.32,"u":0.72},
    {"s":50,"t":1973.1,"m":0.49,"l":0.40,"u":0.66},
    {"s":50,"t":1974.2,"m":0.357,"l":0.25,"u":0.60},
    {"s":50,"t":1975.4,"m":0.235,"l":0.16,"u":0.52},
    {"s":50,"t":1976.3,"m":0.44,"l":0.36,"u":0.62},
    {"s":50,"t":1977.1,"m":0.52,"l":0.43,"u":0.73},
    {"s":50,"t":1978.3,"m":0.53,"l":0.44,"u":0.70},
    {"s":50,"t":1979.4,"m":0.38,"l":0.30,"u":0.60},
    {"s":50,"t":1980.2,"m":0.26,"l":0.20,"u":0.50},
    {"s":50,"t":1981.1,"m":0.665,"l":0.60,"u":0.78},
    {"s":50,"t":1982.3,"m":0.705,"l":0.62,"u":0.82},
    {"s":50,"t":1983.2,"m":0.65,"l":0.60,"u":0.86},
    {"s":50,"t":1984,"m":0.735,"l":0.64,"u":0.83},
    {"s":50,"t":1984.8,"m":0.69,"l":0.60,"u":0.87},
    {"s":50,"t":1986,"m":0.80,"l":0.62,"u":0.88},
    {"s":50,"t":1986.6,"m":0.40,"l":0.35,"u":0.45},
    {"s":50,"t":1987.1,"m":0.0,"l":0.0,"u":0.0},
    {"s":50,"t":1990.4,"m":0.0,"l":0.0,"u":0.0},
    {"s":50,"t":1990.7,"m":0.33,"l":0.30,"u":0.45},
    {"s":50,"t":1991.2,"m":0.65,"l":0.55,"u":0.66},
    {"s":50,"t":1991.9,"m":0.49,"l":0.40,"u":0.60},
    {"s":50,"t":1992.7,"m":0.63,"l":0.50,"u":0.66},
    {"s":50,"t":1993.3,"m":0.33,"l":0.30,"u":0.40},
    {"s":50,"t":1993.9,"m":0.0,"l":0.0,"u":0.0},
    {"s":50,"t":1996.2,"m":0.0,"l":0.0,"u":0.0},
    {"s":50,"t":1997.1,"m":0.034,"l":0.03,"u":0.045},
    {"s":50,"t":1998.3,"m":0.047,"l":0.04,"u":0.06},
    {"s":50,"t":1999.1,"m":0.195,"l":0.17,"u":0.23},
    {"s":50,"t":2000.3,"m":0.49,"l":0.40,"u":0.55},
    {"s":50,"t":2001.8,"m":0.545,"l":0.46,"u":0.62},
    {"s":50,"t":2002.6,"m":0.57,"l":0.50,"u":0.66},
    {"s":50,"t":2003.4,"m":0.65,"l":0.58,"u":0.75},
    {"s":50,"t":2004,"m":0.33,"l":0.30,"u":0.40},
    {"s":50,"t":2004.3,"m":0.0,"l":0.0,"u":0.0},
    {"s":50,"t":2005.3,"m":0.02,"l":0.01,"u":0.03},
    {"s":50,"t":2006.1,"m":0.007,"l":0.005,"u":0.015},
    {"s":50,"t":2006.9,"m":0.06,"l":0.05,"u":0.08},
    {"s":50,"t":2007.8,"m":0.087,"l":0.07,"u":0.11},
    {"s":50,"t":2008.7,"m":0.21,"l":0.16,"u":0.30},
    {"s":50,"t":2010.1,"m":0.26,"l":0.14,"u":0.42},
    {"s":50,"t":2011.2,"m":0.27,"l":0.13,"u":0.41},
    {"s":50,"t":2012,"m":0.21,"l":0.13,"u":0.33},
    {"s":50,"t":2013.2,"m":0.21,"l":0.16,"u":0.28},

    {"s":52,"t":1950,"m":0.0,"l":0.0,"u":0.0},
    {"s":52,"t":1967.7,"m":0.0,"l":0.0,"u":0.0},
    {"s":52,"t":1968.9,"m":0.10,"l":0.09,"u":0.12},
    {"s":52,"t":1970,"m":0.155,"l":0.13,"u":0.25},
    {"s":52,"t":1970.5,"m":0.275,"l":0.24,"u":0.40},
    {"s":52,"t":1971.2,"m":0.357,"l":0.30,"u":0.45},
    {"s":52,"t":1972,"m":0.22,"l":0.18,"u":0.30},
    {"s":52,"t":1972.8,"m":0.10,"l":0.08,"u":0.14},
    {"s":52,"t":1973.5,"m":0.14,"l":0.10,"u":0.16},
    {"s":52,"t":1974.7,"m":0.087,"l":0.07,"u":0.10},
    {"s":52,"t":1976.1,"m":0.02,"l":0.015,"u":0.03},
    {"s":52,"t":1977.2,"m":0.0,"l":0.0,"u":0.005},
    {"s":52,"t":1980.1,"m":0.0,"l":0.0,"u":0.005},
    {"s":52,"t":1981.6,"m":0.054,"l":0.045,"u":0.065},
    {"s":52,"t":1983,"m":0.013,"l":0.01,"u":0.02},
    {"s":52,"t":1984.2,"m":0.0,"l":0.0,"u":0.005},
    {"s":52,"t":1991.1,"m":0.0,"l":0.0,"u":0.005},
    {"s":52,"t":1992.3,"m":0.017,"l":0.012,"u":0.022},
    {"s":52,"t":1993.5,"m":0.007,"l":0.004,"u":0.01},
    {"s":52,"t":1994.6,"m":0.011,"l":0.008,"u":0.015},
    {"s":52,"t":1995.8,"m":0.0,"l":0.0,"u":0.005},
    {"s":52,"t":1997.5,"m":0.013,"l":0.01,"u":0.018},
    {"s":52,"t":2000.2,"m":0.023,"l":0.018,"u":0.028},
    {"s":52,"t":2001.5,"m":0.013,"l":0.01,"u":0.018},
    {"s":52,"t":2003.9,"m":0.011,"l":0.008,"u":0.015},
    {"s":52,"t":2006.8,"m":0.011,"l":0.008,"u":0.015},
    {"s":52,"t":2008.5,"m":0.0,"l":0.0,"u":0.005},
    {"s":52,"t":2009.7,"m":0.007,"l":0.005,"u":0.01},
    {"s":52,"t":2013.2,"m":0.0,"l":0.0,"u":0.005},

    {"s":59,"t":1950,"m":0.195,"l":0.17,"u":0.23},
    {"s":59,"t":1951.2,"m":0.235,"l":0.20,"u":0.28},
    {"s":59,"t":1952.1,"m":0.336,"l":0.29,"u":0.37},
    {"s":59,"t":1952.9,"m":0.30,"l":0.27,"u":0.35},
    {"s":59,"t":1954.1,"m":0.357,"l":0.31,"u":0.40},
    {"s":59,"t":1955.2,"m":0.45,"l":0.40,"u":0.50},
    {"s":59,"t":1956.4,"m":0.545,"l":0.49,"u":0.60},
    {"s":59,"t":1957.6,"m":0.57,"l":0.50,"u":0.66},
    {"s":59,"t":1958.5,"m":0.61,"l":0.53,"u":0.70},
    {"s":59,"t":1959.1,"m":0.64,"l":0.56,"u":0.74},
    {"s":59,"t":1959.9,"m":0.53,"l":0.47,"u":0.60},
    {"s":59,"t":1961.1,"m":0.41,"l":0.33,"u":0.48},
    {"s":59,"t":1962,"m":0.30,"l":0.25,"u":0.36},
    {"s":59,"t":1963.2,"m":0.37,"l":0.32,"u":0.45},
    {"s":59,"t":1964,"m":0.48,"l":0.40,"u":0.58},
    {"s":59,"t":1964.9,"m":0.37,"l":0.32,"u":0.44},
    {"s":59,"t":1966.1,"m":0.26,"l":0.22,"u":0.30},
    {"s":59,"t":1967.5,"m":0.155,"l":0.13,"u":0.19},
    {"s":59,"t":1968.6,"m":0.235,"l":0.20,"u":0.27},
    {"s":59,"t":1969.8,"m":0.25,"l":0.21,"u":0.29},
    {"s":59,"t":1971,"m":0.33,"l":0.28,"u":0.37},
    {"s":59,"t":1972.1,"m":0.41,"l":0.36,"u":0.45},
    {"s":59,"t":1973.3,"m":0.57,"l":0.52,"u":0.61},
    {"s":59,"t":1974.5,"m":0.735,"l":0.69,"u":0.78},
    {"s":59,"t":1975.3,"m":0.835,"l":0.80,"u":0.87},
    {"s":59,"t":1976.2,"m":0.86,"l":0.82,"u":0.89},
    {"s":59,"t":1977.4,"m":0.895,"l":0.85,"u":0.94},
    {"s":59,"t":1978.3,"m":0.92,"l":0.86,"u":0.97},
    {"s":59,"t":1979.5,"m":0.895,"l":0.82,"u":0.95},
    {"s":59,"t":1980.9,"m":0.855,"l":0.77,"u":0.92},
    {"s":59,"t":1982,"m":0.84,"l":0.74,"u":0.90},
    {"s":59,"t":1983,"m":0.76,"l":0.67,"u":0.84},
    {"s":59,"t":1983.8,"m":0.68,"l":0.60,"u":0.76},
    {"s":59,"t":1984.6,"m":0.56,"l":0.50,"u":0.64},
    {"s":59,"t":1985.5,"m":0.465,"l":0.41,"u":0.55},
    {"s":59,"t":1986.7,"m":0.29,"l":0.24,"u":0.36},
    {"s":59,"t":1987.9,"m":0.22,"l":0.18,"u":0.30},
    {"s":59,"t":1989,"m":0.25,"l":0.21,"u":0.35},
    {"s":59,"t":1990.4,"m":0.31,"l":0.25,"u":0.41},
    {"s":59,"t":1991.4,"m":0.22,"l":0.18,"u":0.29},
    {"s":59,"t":1992.5,"m":0.17,"l":0.14,"u":0.22},
    {"s":59,"t":1993.7,"m":0.155,"l":0.13,"u":0.21},
    {"s":59,"t":1995.5,"m":0.155,"l":0.13,"u":0.24},
    {"s":59,"t":1997.2,"m":0.16,"l":0.14,"u":0.32},
    {"s":59,"t":1998.4,"m":0.195,"l":0.15,"u":0.27},
    {"s":59,"t":1999.3,"m":0.17,"l":0.14,"u":0.26},
    {"s":59,"t":2000.8,"m":0.16,"l":0.13,"u":0.27},
    {"s":59,"t":2001.9,"m":0.114,"l":0.09,"u":0.18},
    {"s":59,"t":2003.3,"m":0.087,"l":0.07,"u":0.12},
    {"s":59,"t":2004.8,"m":0.094,"l":0.08,"u":0.12},
    {"s":59,"t":2006,"m":0.215,"l":0.17,"u":0.33},
    {"s":59,"t":2007.2,"m":0.17,"l":0.14,"u":0.32},
    {"s":59,"t":2008.3,"m":0.135,"l":0.11,"u":0.25},
    {"s":59,"t":2009.9,"m":0.114,"l":0.10,"u":0.21},
    {"s":59,"t":2011.3,"m":0.10,"l":0.09,"u":0.14},
    {"s":59,"t":2012.4,"m":0.094,"l":0.08,"u":0.11},
    {"s":59,"t":2013.5,"m":0.10,"l":0.09,"u":0.11},

    {"s":79,"t":1950,"m":0.0,"l":0.0,"u":0.0},
    {"s":79,"t":1976.3,"m":0.0,"l":0.0,"u":0.0},
    {"s":79,"t":1977,"m":0.012,"l":0.01,"u":0.014},
    {"s":79,"t":1981,"m":0.012,"l":0.01,"u":0.014},
    {"s":79,"t":1982,"m":0.02,"l":0.018,"u":0.022},
    {"s":79,"t":1983.5,"m":0.025,"l":0.022,"u":0.028},
    {"s":79,"t":1984.7,"m":0.045,"l":0.04,"u":0.05},
    {"s":79,"t":1986,"m":0.012,"l":0.01,"u":0.014},
    {"s":79,"t":2008,"m":0.012,"l":0.01,"u":0.014},
    {"s":79,"t":2008.6,"m":0.0,"l":0.0,"u":0.002},
    {"s":79,"t":2010.2,"m":0.0,"l":0.0,"u":0.002},
    {"s":79,"t":2010.8,"m":0.01,"l":0.008,"u":0.012},
    {"s":79,"t":2012,"m":0.005,"l":0.004,"u":0.007},
    {"s":79,"t":2013.4,"m":0.0,"l":0.0,"u":0.0}
  ]},
  "transform": [
    {"lookup": "s", "from": {"data": {"name": "names"}, "key": "s", "fields": ["name"]}}
  ],
  "columns": 4,
  "bounds": "flush",
  "spacing": {"column": 149, "row": 103},
  "concat": [
    {"width": 297, "height": 295, "transform": [{"filter": "datum.s === 1"}],
     "encoding": {"x": {"field": "t", "type": "quantitative", "scale": {"domain": [1947.2, 2018.2], "nice": false, "zero": false}, "axis": {"values": [1950, 1960, 1970, 1980, 1990, 2000, 2010], "format": "d", "labelExpr": "datum.value % 30 === 0 ? datum.label : ''"}}},
     "layer": [
       {"mark": "area", "encoding": {"y": {"field": "l", "type": "quantitative", "scale": {"domain": [-0.046, 1.148], "nice": false, "zero": false}, "axis": {"values": [0, 0.2, 0.4, 0.6, 0.8, 1], "labelExpr": "datum.value === 0 || datum.value === 0.4 || datum.value === 0.8 ? format(datum.value, '.1f') : ''"}}, "y2": {"field": "u"}}},
       {"mark": "line", "encoding": {"y": {"field": "m", "type": "quantitative", "scale": {"domain": [-0.046, 1.148], "nice": false, "zero": false}}}},
       {"transform": [{"filter": "datum.t === 1950"}], "mark": {"type": "text", "clip": true}, "encoding": {"x": {"datum": 1953.4}, "y": {"datum": 1}, "text": {"field": "name"}}}
     ]},
    {"width": 297, "height": 295, "transform": [{"filter": "datum.s === 2"}],
     "encoding": {"x": {"field": "t", "type": "quantitative", "scale": {"domain": [1947.2, 2018.2], "nice": false, "zero": false}, "axis": {"values": [1950, 1960, 1970, 1980, 1990, 2000, 2010], "format": "d", "labelExpr": "datum.value % 30 === 0 ? datum.label : ''"}}},
     "layer": [
       {"mark": "area", "encoding": {"y": {"field": "l", "type": "quantitative", "scale": {"domain": [-0.046, 1.148], "nice": false, "zero": false}, "axis": {"values": [0, 0.2, 0.4, 0.6, 0.8, 1], "labelExpr": "datum.value === 0 || datum.value === 0.4 || datum.value === 0.8 ? format(datum.value, '.1f') : ''"}}, "y2": {"field": "u"}}},
       {"mark": "line", "encoding": {"y": {"field": "m", "type": "quantitative", "scale": {"domain": [-0.046, 1.148], "nice": false, "zero": false}}}},
       {"transform": [{"filter": "datum.t === 1950"}], "mark": {"type": "text", "clip": true}, "encoding": {"x": {"datum": 1953.4}, "y": {"datum": 1}, "text": {"field": "name"}}}
     ]},
    {"width": 297, "height": 295, "transform": [{"filter": "datum.s === 13"}],
     "encoding": {"x": {"field": "t", "type": "quantitative", "scale": {"domain": [1947.2, 2018.2], "nice": false, "zero": false}, "axis": {"values": [1950, 1960, 1970, 1980, 1990, 2000, 2010], "format": "d", "labelExpr": "datum.value % 30 === 0 ? datum.label : ''"}}},
     "layer": [
       {"mark": "area", "encoding": {"y": {"field": "l", "type": "quantitative", "scale": {"domain": [-0.046, 1.148], "nice": false, "zero": false}, "axis": {"values": [0, 0.2, 0.4, 0.6, 0.8, 1], "labelExpr": "datum.value === 0 || datum.value === 0.4 || datum.value === 0.8 ? format(datum.value, '.1f') : ''"}}, "y2": {"field": "u"}}},
       {"mark": "line", "encoding": {"y": {"field": "m", "type": "quantitative", "scale": {"domain": [-0.046, 1.148], "nice": false, "zero": false}}}},
       {"transform": [{"filter": "datum.t === 1950"}], "mark": {"type": "text", "clip": true}, "encoding": {"x": {"datum": 1953.4}, "y": {"datum": 1}, "text": {"field": "name"}}}
     ]},
    {"width": 297, "height": 295, "transform": [{"filter": "datum.s === 29"}],
     "encoding": {"x": {"field": "t", "type": "quantitative", "scale": {"domain": [1947.2, 2018.2], "nice": false, "zero": false}, "axis": {"values": [1950, 1960, 1970, 1980, 1990, 2000, 2010], "format": "d", "labelExpr": "datum.value % 30 === 0 ? datum.label : ''"}}},
     "layer": [
       {"mark": "area", "encoding": {"y": {"field": "l", "type": "quantitative", "scale": {"domain": [-0.046, 1.148], "nice": false, "zero": false}, "axis": {"values": [0, 0.2, 0.4, 0.6, 0.8, 1], "labelExpr": "datum.value === 0 || datum.value === 0.4 || datum.value === 0.8 ? format(datum.value, '.1f') : ''"}}, "y2": {"field": "u"}}},
       {"mark": "line", "encoding": {"y": {"field": "m", "type": "quantitative", "scale": {"domain": [-0.046, 1.148], "nice": false, "zero": false}}}},
       {"transform": [{"filter": "datum.t === 1950"}], "mark": {"type": "text", "clip": true}, "encoding": {"x": {"datum": 1953.4}, "y": {"datum": 1}, "text": {"field": "name"}}}
     ]},
    {"width": 297, "height": 295, "transform": [{"filter": "datum.s === 31"}],
     "encoding": {"x": {"field": "t", "type": "quantitative", "scale": {"domain": [1947.2, 2018.2], "nice": false, "zero": false}, "axis": {"values": [1950, 1960, 1970, 1980, 1990, 2000, 2010], "format": "d", "labelExpr": "datum.value % 30 === 0 ? datum.label : ''"}}},
     "layer": [
       {"mark": "area", "encoding": {"y": {"field": "l", "type": "quantitative", "scale": {"domain": [-0.046, 1.148], "nice": false, "zero": false}, "axis": {"values": [0, 0.2, 0.4, 0.6, 0.8, 1], "labelExpr": "datum.value === 0 || datum.value === 0.4 || datum.value === 0.8 ? format(datum.value, '.1f') : ''"}}, "y2": {"field": "u"}}},
       {"mark": "line", "encoding": {"y": {"field": "m", "type": "quantitative", "scale": {"domain": [-0.046, 1.148], "nice": false, "zero": false}}}},
       {"transform": [{"filter": "datum.t === 1950"}], "mark": {"type": "text", "clip": true}, "encoding": {"x": {"datum": 1953.4}, "y": {"datum": 1}, "text": {"field": "name"}}}
     ]},
    {"width": 297, "height": 295, "transform": [{"filter": "datum.s === 33"}],
     "encoding": {"x": {"field": "t", "type": "quantitative", "scale": {"domain": [1947.2, 2018.2], "nice": false, "zero": false}, "axis": {"values": [1950, 1960, 1970, 1980, 1990, 2000, 2010], "format": "d", "labelExpr": "datum.value % 30 === 0 ? datum.label : ''"}}},
     "layer": [
       {"mark": "area", "encoding": {"y": {"field": "l", "type": "quantitative", "scale": {"domain": [-0.046, 1.148], "nice": false, "zero": false}, "axis": {"values": [0, 0.2, 0.4, 0.6, 0.8, 1], "labelExpr": "datum.value === 0 || datum.value === 0.4 || datum.value === 0.8 ? format(datum.value, '.1f') : ''"}}, "y2": {"field": "u"}}},
       {"mark": "line", "encoding": {"y": {"field": "m", "type": "quantitative", "scale": {"domain": [-0.046, 1.148], "nice": false, "zero": false}}}},
       {"transform": [{"filter": "datum.t === 1950"}], "mark": {"type": "text", "clip": true}, "encoding": {"x": {"datum": 1953.4}, "y": {"datum": 1}, "text": {"field": "name"}}}
     ]},
    {"width": 297, "height": 295, "transform": [{"filter": "datum.s === 35"}],
     "encoding": {"x": {"field": "t", "type": "quantitative", "scale": {"domain": [1947.2, 2018.2], "nice": false, "zero": false}, "axis": {"values": [1950, 1960, 1970, 1980, 1990, 2000, 2010], "format": "d", "labelExpr": "datum.value % 30 === 0 ? datum.label : ''"}}},
     "layer": [
       {"mark": "area", "encoding": {"y": {"field": "l", "type": "quantitative", "scale": {"domain": [-0.046, 1.148], "nice": false, "zero": false}, "axis": {"values": [0, 0.2, 0.4, 0.6, 0.8, 1], "labelExpr": "datum.value === 0 || datum.value === 0.4 || datum.value === 0.8 ? format(datum.value, '.1f') : ''"}}, "y2": {"field": "u"}}},
       {"mark": "line", "encoding": {"y": {"field": "m", "type": "quantitative", "scale": {"domain": [-0.046, 1.148], "nice": false, "zero": false}}}},
       {"transform": [{"filter": "datum.t === 1950"}], "mark": {"type": "text", "clip": true}, "encoding": {"x": {"datum": 1953.4}, "y": {"datum": 1}, "text": {"field": "name"}}}
     ]},
    {"width": 297, "height": 295, "transform": [{"filter": "datum.s === 38"}],
     "encoding": {"x": {"field": "t", "type": "quantitative", "scale": {"domain": [1947.2, 2018.2], "nice": false, "zero": false}, "axis": {"values": [1950, 1960, 1970, 1980, 1990, 2000, 2010], "format": "d", "labelExpr": "datum.value % 30 === 0 ? datum.label : ''"}}},
     "layer": [
       {"mark": "area", "encoding": {"y": {"field": "l", "type": "quantitative", "scale": {"domain": [-0.046, 1.148], "nice": false, "zero": false}, "axis": {"values": [0, 0.2, 0.4, 0.6, 0.8, 1], "labelExpr": "datum.value === 0 || datum.value === 0.4 || datum.value === 0.8 ? format(datum.value, '.1f') : ''"}}, "y2": {"field": "u"}}},
       {"mark": "line", "encoding": {"y": {"field": "m", "type": "quantitative", "scale": {"domain": [-0.046, 1.148], "nice": false, "zero": false}}}},
       {"transform": [{"filter": "datum.t === 1950"}], "mark": {"type": "text", "clip": true}, "encoding": {"x": {"datum": 1953.4}, "y": {"datum": 1}, "text": {"field": "name"}}}
     ]},
    {"width": 297, "height": 295, "transform": [{"filter": "datum.s === 41"}],
     "encoding": {"x": {"field": "t", "type": "quantitative", "scale": {"domain": [1947.2, 2018.2], "nice": false, "zero": false}, "axis": {"values": [1950, 1960, 1970, 1980, 1990, 2000, 2010], "format": "d", "labelExpr": "datum.value % 30 === 0 ? datum.label : ''"}}},
     "layer": [
       {"mark": "area", "encoding": {"y": {"field": "l", "type": "quantitative", "scale": {"domain": [-0.046, 1.148], "nice": false, "zero": false}, "axis": {"values": [0, 0.2, 0.4, 0.6, 0.8, 1], "labelExpr": "datum.value === 0 || datum.value === 0.4 || datum.value === 0.8 ? format(datum.value, '.1f') : ''"}}, "y2": {"field": "u"}}},
       {"mark": "line", "encoding": {"y": {"field": "m", "type": "quantitative", "scale": {"domain": [-0.046, 1.148], "nice": false, "zero": false}}}},
       {"transform": [{"filter": "datum.t === 1950"}], "mark": {"type": "text", "clip": true}, "encoding": {"x": {"datum": 1953.4}, "y": {"datum": 1}, "text": {"field": "name"}}}
     ]},
    {"width": 297, "height": 295, "transform": [{"filter": "datum.s === 50"}],
     "encoding": {"x": {"field": "t", "type": "quantitative", "scale": {"domain": [1947.2, 2018.2], "nice": false, "zero": false}, "axis": {"values": [1950, 1960, 1970, 1980, 1990, 2000, 2010], "format": "d", "labelExpr": "datum.value % 30 === 0 ? datum.label : ''"}}},
     "layer": [
       {"mark": "area", "encoding": {"y": {"field": "l", "type": "quantitative", "scale": {"domain": [-0.046, 1.148], "nice": false, "zero": false}, "axis": {"values": [0, 0.2, 0.4, 0.6, 0.8, 1], "labelExpr": "datum.value === 0 || datum.value === 0.4 || datum.value === 0.8 ? format(datum.value, '.1f') : ''"}}, "y2": {"field": "u"}}},
       {"mark": "line", "encoding": {"y": {"field": "m", "type": "quantitative", "scale": {"domain": [-0.046, 1.148], "nice": false, "zero": false}}}},
       {"transform": [{"filter": "datum.t === 1950"}], "mark": {"type": "text", "clip": true}, "encoding": {"x": {"datum": 1953.4}, "y": {"datum": 1}, "text": {"field": "name"}}}
     ]},
    {"width": 297, "height": 295, "transform": [{"filter": "datum.s === 52"}],
     "encoding": {"x": {"field": "t", "type": "quantitative", "scale": {"domain": [1947.2, 2018.2], "nice": false, "zero": false}, "axis": {"values": [1950, 1960, 1970, 1980, 1990, 2000, 2010], "format": "d", "labelExpr": "datum.value % 30 === 0 ? datum.label : ''"}}},
     "layer": [
       {"mark": "area", "encoding": {"y": {"field": "l", "type": "quantitative", "scale": {"domain": [-0.046, 1.148], "nice": false, "zero": false}, "axis": {"values": [0, 0.2, 0.4, 0.6, 0.8, 1], "labelExpr": "datum.value === 0 || datum.value === 0.4 || datum.value === 0.8 ? format(datum.value, '.1f') : ''"}}, "y2": {"field": "u"}}},
       {"mark": "line", "encoding": {"y": {"field": "m", "type": "quantitative", "scale": {"domain": [-0.046, 1.148], "nice": false, "zero": false}}}},
       {"transform": [{"filter": "datum.t === 1950"}], "mark": {"type": "text", "clip": true}, "encoding": {"x": {"datum": 1953.4}, "y": {"datum": 1}, "text": {"field": "name"}}}
     ]},
    {"width": 297, "height": 295, "transform": [{"filter": "datum.s === 59"}],
     "encoding": {"x": {"field": "t", "type": "quantitative", "scale": {"domain": [1947.2, 2018.2], "nice": false, "zero": false}, "axis": {"values": [1950, 1960, 1970, 1980, 1990, 2000, 2010], "format": "d", "labelExpr": "datum.value % 30 === 0 ? datum.label : ''"}}},
     "layer": [
       {"mark": "area", "encoding": {"y": {"field": "l", "type": "quantitative", "scale": {"domain": [-0.046, 1.148], "nice": false, "zero": false}, "axis": {"values": [0, 0.2, 0.4, 0.6, 0.8, 1], "labelExpr": "datum.value === 0 || datum.value === 0.4 || datum.value === 0.8 ? format(datum.value, '.1f') : ''"}}, "y2": {"field": "u"}}},
       {"mark": "line", "encoding": {"y": {"field": "m", "type": "quantitative", "scale": {"domain": [-0.046, 1.148], "nice": false, "zero": false}}}},
       {"transform": [{"filter": "datum.t === 1950"}], "mark": {"type": "text", "clip": true}, "encoding": {"x": {"datum": 1953.4}, "y": {"datum": 1}, "text": {"field": "name"}}}
     ]},
    {"width": 297, "height": 295, "transform": [{"filter": "datum.s === 79"}],
     "encoding": {"x": {"field": "t", "type": "quantitative", "scale": {"domain": [1947.2, 2018.2], "nice": false, "zero": false}, "axis": {"values": [1950, 1960, 1970, 1980, 1990, 2000, 2010], "format": "d", "labelExpr": "datum.value % 30 === 0 ? datum.label : ''"}}},
     "layer": [
       {"mark": "area", "encoding": {"y": {"field": "l", "type": "quantitative", "scale": {"domain": [-0.046, 1.148], "nice": false, "zero": false}, "axis": {"values": [0, 0.2, 0.4, 0.6, 0.8, 1], "labelExpr": "datum.value === 0 || datum.value === 0.4 || datum.value === 0.8 ? format(datum.value, '.1f') : ''"}}, "y2": {"field": "u"}}},
       {"mark": "line", "encoding": {"y": {"field": "m", "type": "quantitative", "scale": {"domain": [-0.046, 1.148], "nice": false, "zero": false}}}},
       {"transform": [{"filter": "datum.t === 1950"}], "mark": {"type": "text", "clip": true}, "encoding": {"x": {"datum": 1953.4}, "y": {"datum": 1}, "text": {"field": "name"}}}
     ]}
  ],
  "config": {
    "view": {"stroke": "black", "strokeWidth": 2.5},
    "area": {"color": "#1E90FF", "opacity": 0.2},
    "line": {"color": "#1E90FF", "strokeWidth": 2},
    "text": {"align": "left", "baseline": "alphabetic", "font": "Liberation Sans", "fontSize": 28, "color": "black"},
    "axis": {
      "title": null,
      "grid": false,
      "domain": false,
      "ticks": true,
      "tickSize": 16,
      "tickWidth": 2.5,
      "tickColor": "black",
      "labelFont": "Liberation Sans",
      "labelFontSize": 28,
      "labelFontWeight": "bold",
      "labelColor": "black",
      "labelFlush": false,
      "labelOverlap": false,
      "labelBound": false
    },
    "axisX": {"labelBaseline": "top", "labelPadding": 20},
    "axisY": {"labelAngle": -90, "labelAlign": "center", "labelBaseline": "alphabetic", "labelPadding": 26}
  }
}
